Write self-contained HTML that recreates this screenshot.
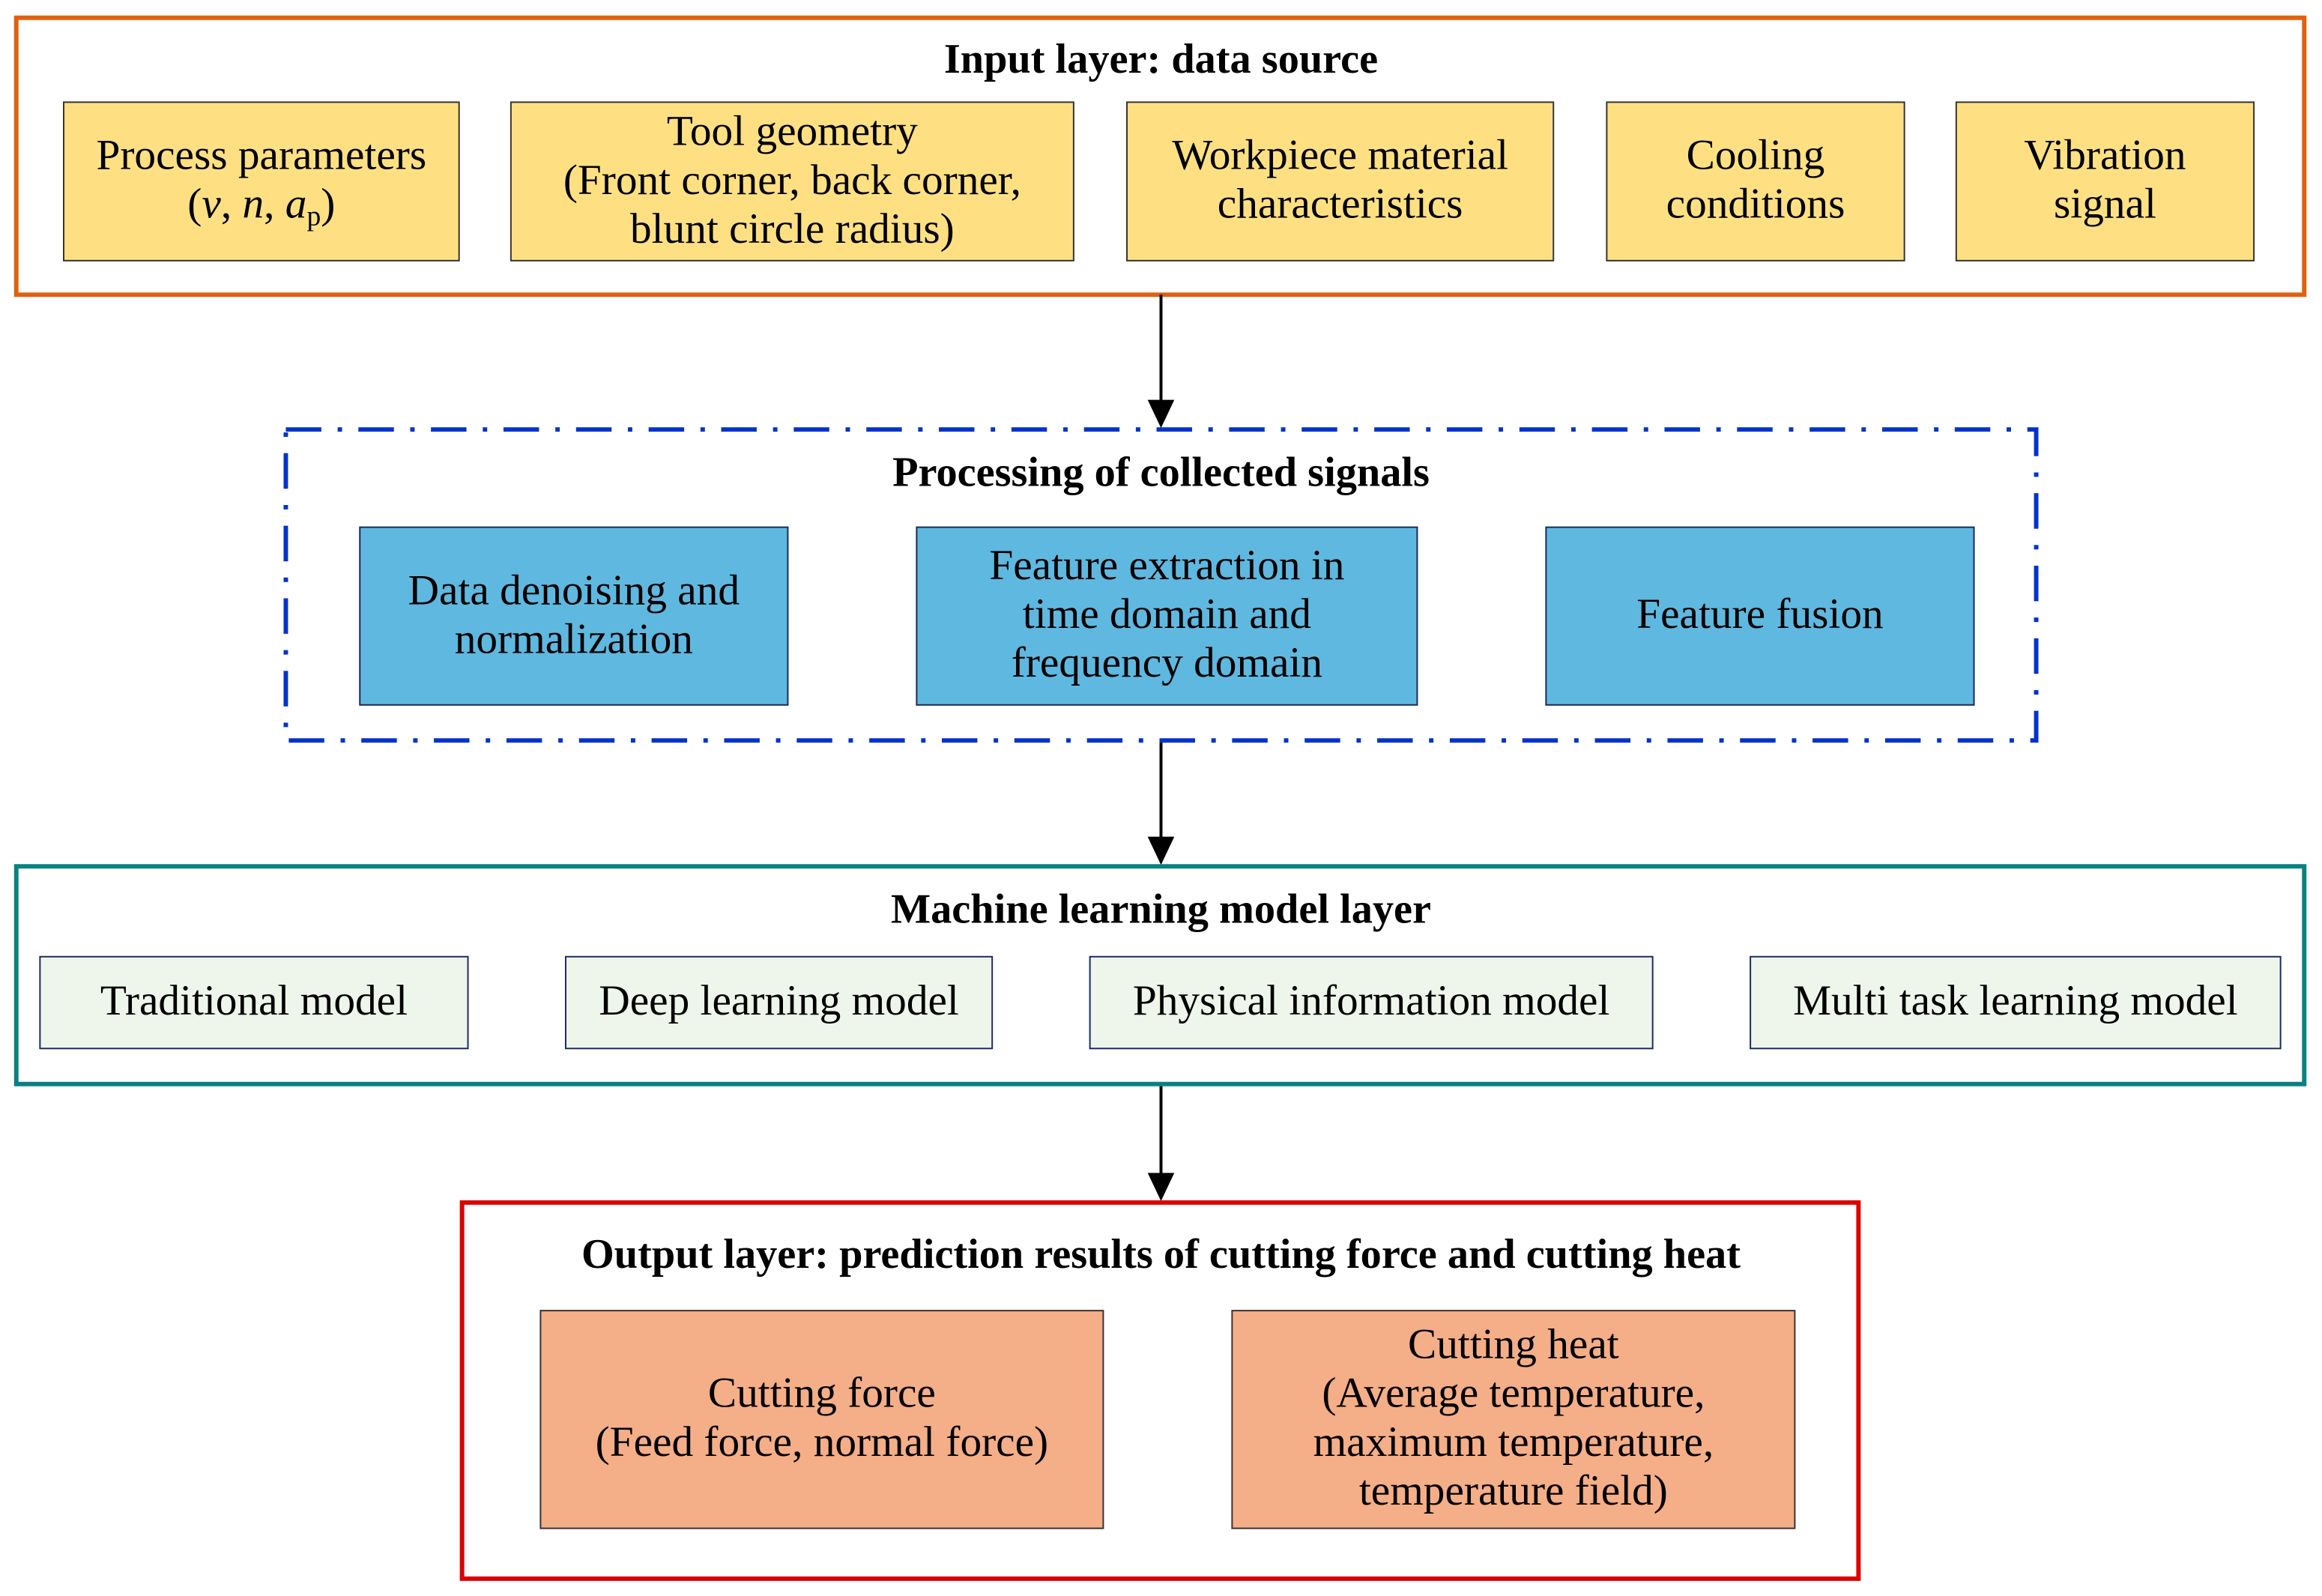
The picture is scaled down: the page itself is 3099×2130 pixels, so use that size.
<!DOCTYPE html>
<html><head><meta charset="utf-8"><style>
html,body{margin:0;padding:0;background:#fff}
svg{display:block}
text{font-family:"Liberation Serif",serif;fill:#000}
.t{font-weight:bold;font-size:28.5px}
.n{font-size:29px}
</style></head><body>
<svg width="3099" height="2130" viewBox="0 0 1568 1077.7" preserveAspectRatio="none" xmlns="http://www.w3.org/2000/svg">
<!-- Input layer -->
<rect x="11" y="12" width="1545" height="187" fill="#fff" stroke="#e0600f" stroke-width="3"/>
<text class="t" x="784" y="49" text-anchor="middle">Input layer: data source</text>
<g fill="#fee083" stroke="#333" stroke-width="1">
<rect x="43" y="69" width="267" height="107"/>
<rect x="345" y="69" width="380" height="107"/>
<rect x="761" y="69" width="288" height="107"/>
<rect x="1085" y="69" width="201" height="107"/>
<rect x="1321" y="69" width="201" height="107"/>
</g>
<g class="n" text-anchor="middle">
<text class="n" x="176.5" y="114">Process parameters</text>
<text class="n" x="176.5" y="147">(<tspan font-style="italic">v</tspan>, <tspan font-style="italic">n</tspan>, <tspan font-style="italic">a</tspan><tspan font-size="19" dy="5">p</tspan><tspan dy="-5">)</tspan></text>
<text class="n" x="535" y="98">Tool geometry</text>
<text class="n" x="535" y="131">(Front corner, back corner,</text>
<text class="n" x="535" y="164">blunt circle radius)</text>
<text class="n" x="905" y="114">Workpiece material</text>
<text class="n" x="905" y="147">characteristics</text>
<text class="n" x="1185.5" y="114">Cooling</text>
<text class="n" x="1185.5" y="147">conditions</text>
<text class="n" x="1421.5" y="114">Vibration</text>
<text class="n" x="1421.5" y="147">signal</text>
</g>
<!-- arrows -->
<g stroke="#000" stroke-width="2">
<line x1="784" y1="199" x2="784" y2="272"/>
<line x1="784" y1="500" x2="784" y2="566"/>
<line x1="784" y1="732" x2="784" y2="794"/>
</g>
<g fill="#000">
<polygon points="775,270 793,270 784,289"/>
<polygon points="775,565 793,565 784,584"/>
<polygon points="775,792 793,792 784,811"/>
</g>
<!-- Processing -->
<rect x="193" y="290" width="1182" height="210" fill="none" stroke="#0033cc" stroke-width="3" stroke-dasharray="24 11 3 11"/>
<text class="t" x="784" y="328" text-anchor="middle">Processing of collected signals</text>
<g fill="#5fb8e0" stroke="#1a2a55" stroke-width="1">
<rect x="243" y="356" width="289" height="120"/>
<rect x="619" y="356" width="338" height="120"/>
<rect x="1044" y="356" width="289" height="120"/>
</g>
<g text-anchor="middle">
<text class="n" x="387.5" y="408">Data denoising and</text>
<text class="n" x="387.5" y="441">normalization</text>
<text class="n" x="788" y="391">Feature extraction in</text>
<text class="n" x="788" y="424">time domain and</text>
<text class="n" x="788" y="457">frequency domain</text>
<text class="n" x="1188.5" y="424">Feature fusion</text>
</g>
<!-- ML layer -->
<rect x="11" y="585" width="1545" height="147" fill="#fff" stroke="#0a8080" stroke-width="3"/>
<text class="t" x="784" y="623" text-anchor="middle">Machine learning model layer</text>
<g fill="#eef5ea" stroke="#1a2a66" stroke-width="1">
<rect x="27" y="646" width="289" height="62"/>
<rect x="382" y="646" width="288" height="62"/>
<rect x="736" y="646" width="380" height="62"/>
<rect x="1182" y="646" width="358" height="62"/>
</g>
<g text-anchor="middle">
<text class="n" x="171.5" y="685">Traditional model</text>
<text class="n" x="526" y="685">Deep learning model</text>
<text class="n" x="926" y="685">Physical information model</text>
<text class="n" x="1361" y="685">Multi task learning model</text>
</g>
<!-- Output -->
<rect x="312" y="812" width="943" height="254" fill="#fff" stroke="#dd0000" stroke-width="3"/>
<text class="t" x="784" y="856" text-anchor="middle">Output layer: prediction results of cutting force and cutting heat</text>
<g fill="#f4ae88" stroke="#333" stroke-width="1">
<rect x="365" y="885" width="380" height="147"/>
<rect x="832" y="885" width="380" height="147"/>
</g>
<g text-anchor="middle">
<text class="n" x="555" y="950">Cutting force</text>
<text class="n" x="555" y="983">(Feed force, normal force)</text>
<text class="n" x="1022" y="917">Cutting heat</text>
<text class="n" x="1022" y="950">(Average temperature,</text>
<text class="n" x="1022" y="983">maximum temperature,</text>
<text class="n" x="1022" y="1016">temperature field)</text>
</g>
</svg>
</body></html>
